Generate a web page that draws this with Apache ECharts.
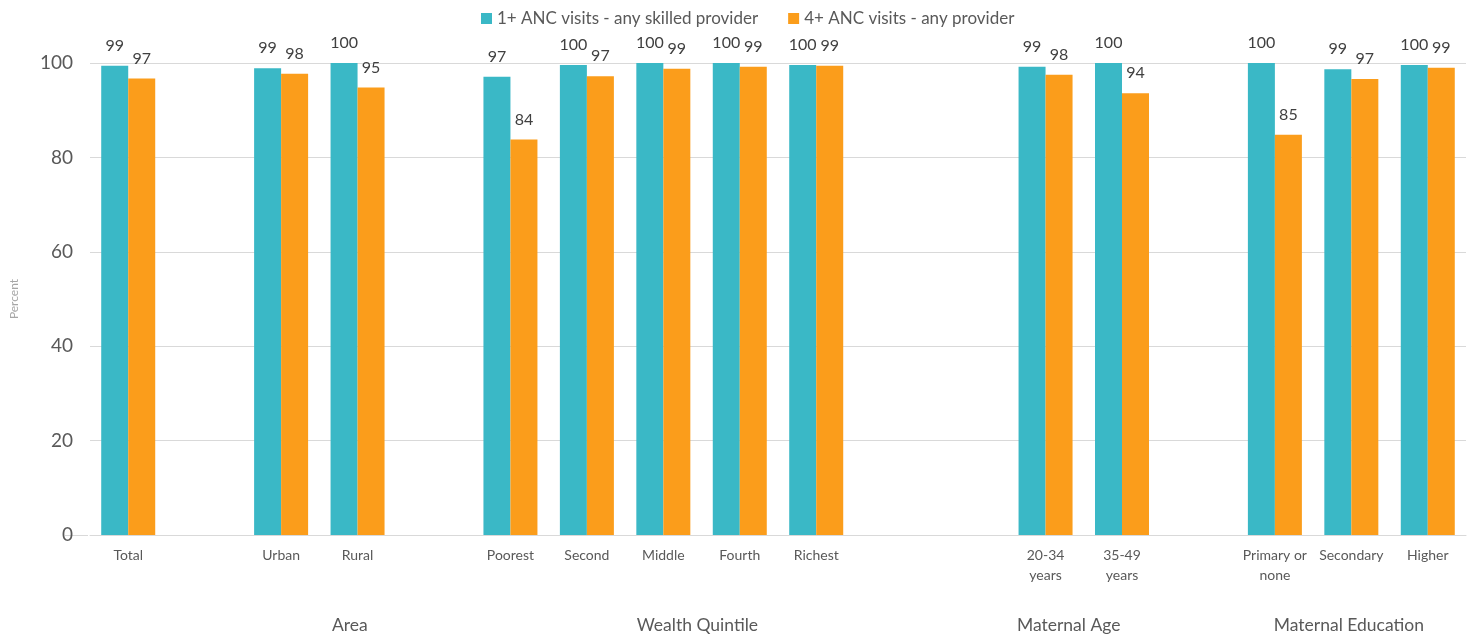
<!DOCTYPE html>
<html>
<head>
<meta charset="utf-8">
<title>ANC visits</title>
<script src="https://cdn.jsdelivr.net/npm/echarts@6/dist/echarts.min.js"></script>
<style>
  html, body { margin: 0; padding: 0; background: #fff; }
  #chart { width: 1470px; height: 638px; }
</style>
</head>
<body>
<div id="chart"></div>
<script>
// Slots along the category axis; empty strings leave gaps between groups
const categories = ['Total', '', 'Urban', 'Rural', '', 'Poorest', 'Second', 'Middle', 'Fourth', 'Richest',
  '', '', '20-34\nyears', '35-49\nyears', '', 'Primary or\nnone', 'Secondary', 'Higher'];

// 1+ ANC visits - any skilled provider (%)
const anc1Values = [99.4, null, 98.9, 100, null, 97.1, 99.6, 100, 100, 99.6,
  null, null, 99.2, 100, null, 100, 98.7, 99.6];

// 4+ ANC visits - any provider (%)
const anc4Values = [96.7, null, 97.7, 94.8, null, 83.8, 97.2, 98.8, 99.2, 99.4,
  null, null, 97.5, 93.6, null, 84.8, 96.6, 99.0];

const seriesNames = ['1+ ANC visits - any skilled provider', '4+ ANC visits - any provider'];

// Group captions under the axis and the slot position each is centred on
const groupNames = ['Area', 'Wealth Quintile', 'Maternal Age', 'Maternal Education'];
const groupCenters = [2.92, 7.46, 12.31, 15.97];

const yTicks = [0, 20, 40, 60, 80, 100];

const FONT = 'Lato, "Open Sans", sans-serif';
const TEXT = '#595959';
const GRID = { left: 88, right: 4, top: 63, bottom: 103 };
const W = 1470, H = 638;

const chart = echarts.init(document.getElementById('chart'), null, { renderer: 'canvas' });

const slotW = (W - GRID.left - GRID.right) / categories.length;
const axisY = H - GRID.bottom;

const labelCfg = {
  show: true,
  position: 'top',
  distance: 12,
  color: '#404040',
  fontSize: 16,
  fontFamily: FONT,
  formatter: p => Math.round(p.value)
};

chart.setOption({
  backgroundColor: '#ffffff',
  animation: false,
  textStyle: { fontFamily: FONT },
  legend: {
    data: seriesNames,
    left: 476,
    top: 5,
    itemWidth: 11,
    itemHeight: 11,
    itemGap: 30,
    icon: 'rect',
    textStyle: { color: TEXT, fontSize: 17, fontFamily: FONT }
  },
  grid: GRID,
  xAxis: {
    type: 'category',
    data: categories,
    axisLine: { show: true, lineStyle: { color: '#d9d9d9', width: 1 } },
    axisTick: { show: false },
    axisLabel: {
      interval: 0,
      color: TEXT,
      fontSize: 14,
      fontFamily: FONT,
      margin: 10,
      lineHeight: 20
    }
  },
  yAxis: {
    type: 'value',
    min: 0,
    max: 100,
    interval: 20,
    name: 'Percent',
    nameLocation: 'middle',
    nameGap: 70,
    nameRotate: 90,
    nameTextStyle: { color: '#a6a6a6', fontSize: 12, fontFamily: FONT },
    axisLine: { show: false },
    axisTick: { show: false },
    splitLine: { lineStyle: { color: '#d9d9d9', width: 1 } },
    axisLabel: {
      color: TEXT,
      fontSize: 19,
      fontFamily: FONT,
      margin: 17,
      formatter: v => (yTicks.includes(v) ? String(v) : '')
    }
  },
  series: [
    {
      name: seriesNames[0],
      type: 'bar',
      data: anc1Values,
      barWidth: 27,
      barGap: '0%',
      itemStyle: { color: '#3AB8C6' },
      label: labelCfg
    },
    {
      name: seriesNames[1],
      type: 'bar',
      data: anc4Values,
      barWidth: 27,
      barGap: '0%',
      itemStyle: { color: '#FB9D1B' },
      label: labelCfg
    }
  ],
  graphic: [
    // short extension of the baseline to the left of the plot area
    {
      type: 'line',
      shape: { x1: 65, y1: axisY + 0.5, x2: GRID.left, y2: axisY + 0.5 },
      style: { stroke: '#d9d9d9', lineWidth: 1 },
      silent: true
    }
  ].concat(groupNames.map((name, i) => ({
    type: 'text',
    x: GRID.left + (groupCenters[i] + 0.5) * slotW,
    y: 625,
    style: {
      text: name,
      fill: TEXT,
      fontSize: 17.5,
      fontFamily: FONT,
      align: 'center',
      verticalAlign: 'middle'
    },
    silent: true
  })))
});
</script>
</body>
</html>
